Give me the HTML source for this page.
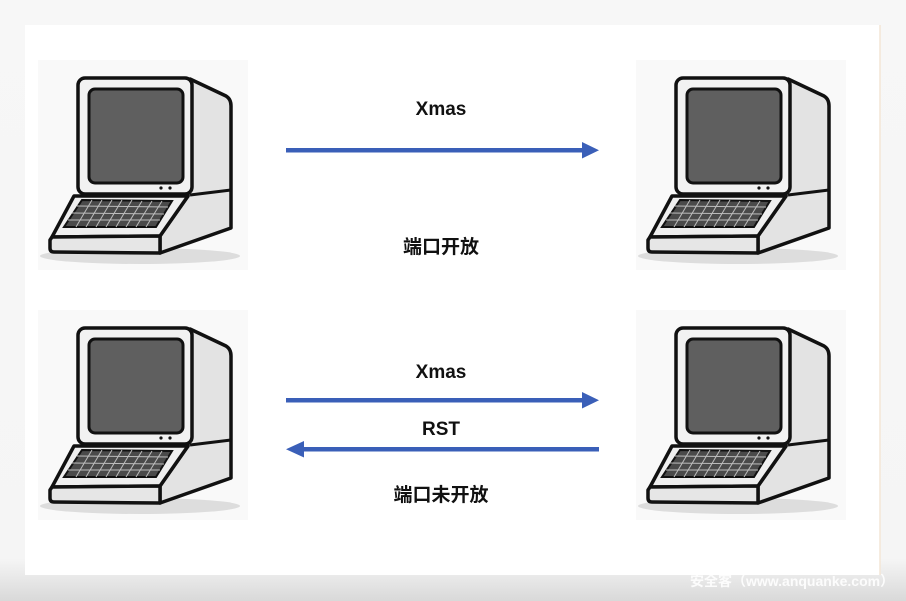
<!DOCTYPE html>
<html><head><meta charset="utf-8"><style>
html,body{margin:0;padding:0;width:906px;height:601px;overflow:hidden;background:#ececec;}
svg{display:block}
text{font-family:"Liberation Sans","Noto Sans CJK SC",sans-serif;font-weight:bold;fill:#111;}
</style></head><body>
<svg width="906" height="601" viewBox="0 0 906 601">
<defs>
<linearGradient id="bg" x1="0" y1="0" x2="0" y2="1">
<stop offset="0" stop-color="#f7f7f7"/><stop offset="0.93" stop-color="#f5f5f5"/><stop offset="1" stop-color="#d9d9d9"/>
</linearGradient>
<g id="pc">
<rect x="38" y="60" width="210" height="210" fill="#f9f9f9"/>
<ellipse cx="140" cy="256" rx="100" ry="8" fill="#ddd"/>
<!-- side -->
<path d="M190 79 L226 96 Q231 99 231 106 L231 228 L160 253 L160 236 L188 196 Z" fill="#e3e3e3" stroke="#111" stroke-width="3.5" stroke-linejoin="round"/>
<path d="M190 195 L231 190" stroke="#111" stroke-width="3"/>
<!-- monitor front -->
<rect x="78" y="78" width="114" height="116" rx="7" fill="#f2f2f2" stroke="#111" stroke-width="3.5"/>
<rect x="89" y="89" width="94" height="94" rx="6" fill="#5f5f5f" stroke="#111" stroke-width="3"/>
<circle cx="161" cy="188" r="1.6" fill="#111"/><circle cx="170" cy="188" r="1.6" fill="#111"/>
<!-- keyboard base -->
<path d="M74 196 L188 196 L160 236 L52 237 Z" fill="#efefef" stroke="#111" stroke-width="3.5" stroke-linejoin="round"/>
<path d="M52 237 L160 236 L160 253 L54 252 Q50 252 50 248 L50 240 Z" fill="#e6e6e6" stroke="#111" stroke-width="3.5" stroke-linejoin="round"/>
<path d="M82 200 L172 201 L156 227 L64 227 Z" fill="#4a4a4a" stroke="#111" stroke-width="2"/>
<g stroke="#bdbdbd" stroke-width="1">
<path d="M77 206 L168 207 M72 213 L164 214 M68 220 L160 220"/>
<path d="M92 200 L76 227 M102 200 L86 227 M112 200 L96 227 M122 200 L106 227 M132 200 L116 227 M142 201 L126 227 M152 201 L136 227 M162 201 L146 227"/>
</g>
</g>
</defs>
<rect width="906" height="601" fill="url(#bg)"/>
<rect x="25" y="25" width="855" height="550" fill="#fff"/>
<line x1="880" y1="25" x2="880" y2="575" stroke="#f3e6d6" stroke-width="1.5"/>
<use href="#pc"/>
<use href="#pc" x="598"/>
<use href="#pc" y="250"/>
<use href="#pc" x="598" y="250"/>
<g fill="#3a5fb8" stroke="none">
<rect x="286" y="148" width="298" height="4.5"/><path d="M582 142 L599 150.2 L582 158.5 Z"/>
<rect x="286" y="398" width="298" height="4.5"/><path d="M582 392 L599 400.2 L582 408.5 Z"/>
<rect x="302" y="447" width="297" height="4.5"/><path d="M304 441 L286 449.2 L304 457.5 Z"/>
</g>
<g font-size="19" text-anchor="middle">
<text x="441" y="115">Xmas</text>
<text x="441" y="253">端口开放</text>
<text x="441" y="378">Xmas</text>
<text x="441" y="435">RST</text>
<text x="441" y="501">端口未开放</text>
</g>
<text x="690" y="586" font-size="14" font-weight="normal" style="fill:#fff;opacity:0.9">安全客（www.anquanke.com）</text>
</svg>
</body></html>
